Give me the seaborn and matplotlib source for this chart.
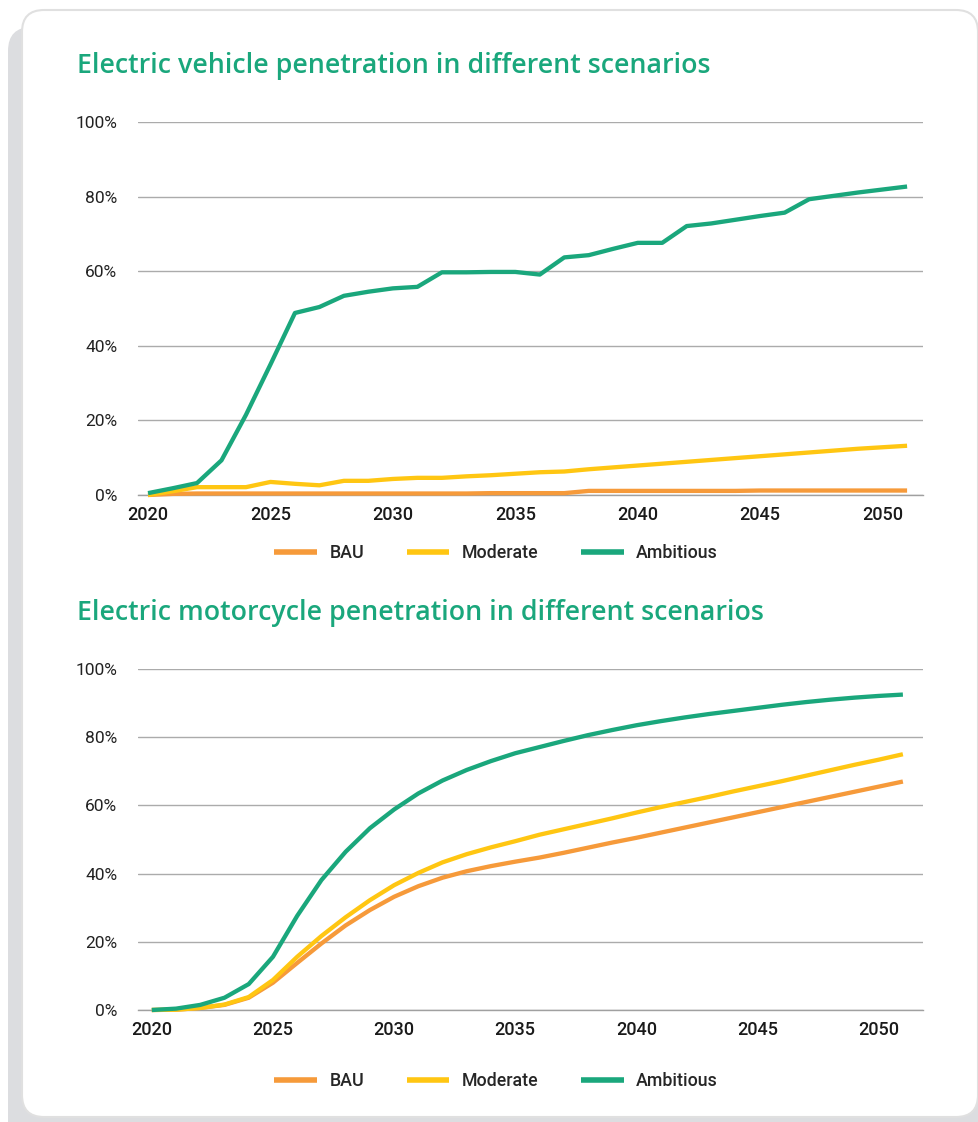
import matplotlib
matplotlib.use("Agg")
import matplotlib.pyplot as plt
from matplotlib.patches import FancyBboxPatch
from matplotlib.ticker import FuncFormatter
import seaborn as sns
import pandas as pd

# years shown in both charts
years = list(range(2020, 2052))
scenarios = ["BAU", "Moderate", "Ambitious"]
colors = {"BAU": "#f69a3a", "Moderate": "#ffc612", "Ambitious": "#1aa77c"}

# electric vehicle penetration (%)
ev_bau = [0.0, 0.3, 0.4, 0.4, 0.4, 0.4, 0.4, 0.4, 0.4, 0.4, 0.4, 0.4, 0.4, 0.4, 0.5, 0.5,
          0.5, 0.5, 1.1, 1.1, 1.1, 1.1, 1.1, 1.1, 1.1, 1.2, 1.2, 1.2, 1.2, 1.2, 1.2, 1.2]
ev_moderate = [0.0, 1.0, 2.1, 2.1, 2.1, 3.5, 3.0, 2.6, 3.8, 3.8, 4.3, 4.6, 4.6, 5.0, 5.3, 5.7,
               6.1, 6.3, 6.9, 7.4, 7.9, 8.4, 8.9, 9.4, 9.9, 10.4, 10.9, 11.4, 11.9, 12.4, 12.8, 13.2]
ev_ambitious = [0.5, 1.8, 3.2, 9.3, 21.5, 35.0, 48.8, 50.4, 53.4, 54.5, 55.4, 55.8, 59.7, 59.7, 59.8, 59.8,
                59.1, 63.7, 64.3, 66.0, 67.6, 67.6, 72.1, 72.8, 73.8, 74.8, 75.7, 79.3, 80.2, 81.1, 81.9, 82.7]

# electric motorcycle penetration (%)
mc_bau = [0.0, 0.1, 0.6, 1.5, 3.6, 8.0, 13.8, 19.5, 24.8, 29.3, 33.2, 36.3, 38.8, 40.7, 42.2, 43.5,
          44.7, 46.1, 47.6, 49.1, 50.5, 52.0, 53.5, 55.0, 56.5, 58.0, 59.5, 61.0, 62.5, 64.0, 65.5, 67.0]
mc_moderate = [0.0, 0.1, 0.6, 1.6, 3.8, 8.8, 15.6, 21.7, 27.2, 32.2, 36.6, 40.2, 43.3, 45.7, 47.7, 49.5,
               51.4, 53.0, 54.6, 56.2, 57.9, 59.5, 61.0, 62.5, 64.1, 65.6, 67.1, 68.7, 70.3, 71.9, 73.4, 75.0]
mc_ambitious = [0.0, 0.4, 1.5, 3.6, 7.6, 15.6, 27.6, 38.1, 46.4, 53.3, 58.8, 63.5, 67.3, 70.4, 73.0, 75.3,
                77.1, 78.9, 80.6, 82.1, 83.5, 84.7, 85.8, 86.8, 87.7, 88.6, 89.5, 90.3, 91.0, 91.6, 92.1, 92.5]

titles = ["Electric vehicle penetration in different scenarios",
          "Electric motorcycle penetration in different scenarios"]
x_ticks = [2020, 2025, 2030, 2035, 2040, 2045, 2050]
y_ticks = [0, 20, 40, 60, 80, 100]


def to_long(bau, moderate, ambitious):
    df = pd.DataFrame({"Year": years, "BAU": bau, "Moderate": moderate, "Ambitious": ambitious})
    return df.melt(id_vars="Year", var_name="Scenario", value_name="Share")


sns.set_theme(style="white")
plt.rcParams["font.family"] = ["Roboto", "DejaVu Sans"]

W, H = 979, 1122
fig = plt.figure(figsize=(W / 100, H / 100), dpi=100)

# background card (pixel coordinates)
bg = fig.add_axes([0, 0, 1, 1])
bg.set_xlim(0, W)
bg.set_ylim(H, 0)
bg.axis("off")
bg.add_patch(FancyBboxPatch((8, 27), 990, 1120, boxstyle="round,pad=0,rounding_size=24",
                            facecolor="#dcdde0", edgecolor="none"))
bg.add_patch(FancyBboxPatch((22, 10), 956, 1107, boxstyle="round,pad=0,rounding_size=22",
                            facecolor="white", edgecolor="#e0e0e0", linewidth=1.5))


def px_axes(left, right, top, bottom):
    return fig.add_axes([left / W, 1 - bottom / H, (right - left) / W, (bottom - top) / H])


panels = [
    (to_long(ev_bau, ev_moderate, ev_ambitious), (138, 923, 122, 495), (2019.59, 2051.65), 73, 553),
    (to_long(mc_bau, mc_moderate, mc_ambitious), (138, 923, 669, 1010), (2019.43, 2051.83), 620, 1081),
]

for i, (df, box, xlim, title_y, legend_y) in enumerate(panels):
    ax = px_axes(*box)
    sns.lineplot(data=df, x="Year", y="Share", hue="Scenario", hue_order=scenarios,
                 palette=colors, linewidth=3.1, ax=ax, legend=False)
    for line in ax.lines:
        line.set_clip_on(False)
        line.set_solid_capstyle("butt")
        line.set_solid_joinstyle("round")
        line.set_zorder(3)

    ax.set_xlim(*xlim)
    ax.set_ylim(0, 100)
    ax.set_xticks(x_ticks)
    ax.set_yticks(y_ticks)
    ax.yaxis.set_major_formatter(FuncFormatter(lambda v, p: f"{v:.0f}%"))
    ax.grid(axis="y", color="#ababab", linewidth=1.0)
    ax.set_axisbelow(True)
    for s in ["top", "left", "right"]:
        ax.spines[s].set_visible(False)
    ax.spines["bottom"].set_color("#a0a0a0")
    ax.spines["bottom"].set_linewidth(1.0)
    ax.tick_params(axis="x", length=0, pad=8, labelsize=13, labelcolor="#1a1a1a")
    ax.tick_params(axis="y", length=0, pad=15, labelsize=12.5, labelcolor="#222222")
    for lab in ax.get_xticklabels():
        lab.set_fontweight("medium")
        lab.set_x(lab.get_position()[0])
    ax.set_xlabel("")
    ax.set_ylabel("")

    bg.text(77, title_y, titles[i], color="#1aa77c", fontsize=19.3, fontweight="semibold",
            family=["Open Sans", "DejaVu Sans"], va="baseline", ha="left")

    handles = [plt.Line2D([], [], color=colors[s], linewidth=4, solid_capstyle="butt") for s in scenarios]
    fig.legend(handles, scenarios, loc="center", bbox_to_anchor=(496 / W, 1 - legend_y / H),
               ncol=3, frameon=False, handlelength=2.4, handletextpad=0.7, columnspacing=2.4,
               prop={"size": 12.8, "weight": "medium"})

fig.savefig("out.png", dpi=100)
